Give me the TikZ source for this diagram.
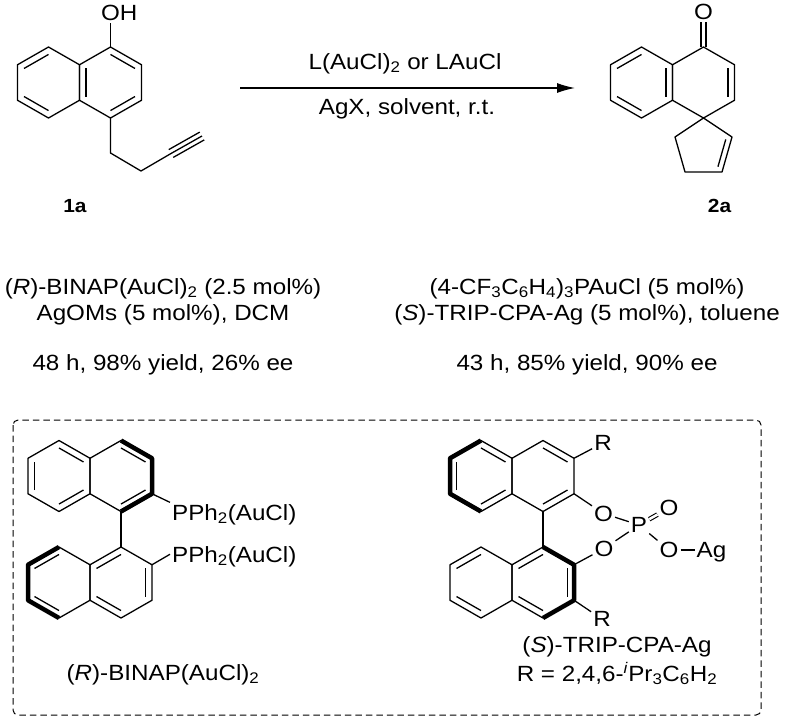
\documentclass[tikz,border=0pt]{standalone}
\usepackage{fontspec}
\setmainfont{Liberation Sans}[FakeStretch=1.1]
\usepackage{tikz,graphicx}
\usetikzlibrary{calc,arrows.meta}

% hexagon: name, centre x, centre y (pixel grid, y downwards)
\newcommand{\hexring}[3]{%
\coordinate (#1) at (#2,#3);
\foreach \k/\ddx/\ddy in {1/0/-35.5,2/31/-17.75,3/31/17.75,4/0/35.5,5/-31/17.75,6/-31/-17.75}
{\coordinate (#1-\k) at ($(#1)+(\ddx,\ddy)$);}
\draw (#1-1) -- (#1-2) -- (#1-3) -- (#1-4) -- (#1-5) -- (#1-6) -- cycle;}
% inner line of a double bond
\newcommand{\dbond}[3]{\draw ($(#1-#2)!.21!(#1)$) -- ($(#1-#3)!.21!(#1)$);}

\begin{document}
\begin{tikzpicture}[x=1pt,y=-1pt,line width=1.3pt,line join=round,
bold/.style={line width=4.5pt},
txt/.style={font=\fontsize{22}{25}\selectfont,inner sep=0pt},
atom/.style={font=\fontsize{22}{25}\selectfont,inner sep=1.5pt,text height=15.5pt,text depth=0pt},
lbl/.style={font=\fontsize{19}{22}\selectfont\bfseries,inner sep=0pt}]
\useasboundingbox (0,0) rectangle (786,721);
%Substrate 1a
\hexring{s1}{48.5}{82.5}
\hexring{s2}{110.5}{82.5}
\dbond{s1}{6}{1} \dbond{s1}{4}{5}
\dbond{s2}{6}{5} \dbond{s2}{1}{2} \dbond{s2}{3}{4}
\node[atom] (oh) at (110.5,13) {O\rlap{H}};
\draw (s2-1) -- (oh);
\coordinate (c1) at (110.5,153);
\coordinate (c2) at (141,171);
\coordinate (c3) at (171,153.5);
\coordinate (c4) at (202,136);
\draw (s2-4) -- (c1) -- (c2) -- (c3) -- (c4);
\draw ($(c3)!4.5pt!90:(c4)$) -- ($(c4)!4.5pt!-90:(c3)$);
\draw ($(c3)!4.5pt!-90:(c4)$) -- ($(c4)!4.5pt!90:(c3)$);
\node[lbl,anchor=base] (l1a) at (75,212) {1a};
%Arrow
\coordinate (arrS) at (240,88);
\coordinate (arrE) at (575,88);
\draw[-{Latex[length=18pt,width=10pt]}] (arrS) -- (arrE);
\node[txt,anchor=base] (cat) at (405,69) {L(AuCl)\textsubscript{2} or LAuCl};
\node[txt,anchor=base] (cond) at (407,114) {AgX, solvent, r.t.};
%Product 2a
\hexring{p1}{641.5}{82.5}
\hexring{p2}{703.5}{82.5}
\dbond{p1}{6}{1} \dbond{p1}{4}{5} \dbond{p1}{2}{3}
\dbond{p2}{2}{3}
\node[atom] (ko) at (703.5,12) {O};
\draw ([xshift=-2.6pt]p2-1) -- ([xshift=-2.6pt]ko.south);
\draw ([xshift=2.6pt]p2-1) -- ([xshift=2.6pt]ko.south);
\coordinate (q1) at (732,137);
\coordinate (q2) at (722,172);
\coordinate (q3) at (685,172);
\coordinate (q4) at (675,137);
\coordinate (q) at (703.5,148);
\draw (p2-4) -- (q1) -- (q2) -- (q3) -- (q4) -- cycle;
\draw ($(q1)!.22!(q)$) -- ($(q2)!.22!(q)$);
\node[lbl,anchor=base] (l2a) at (719.5,212) {2a};
%Conditions
\node[txt,anchor=base] (condL1) at (163,294) {(\textit{R})-BINAP(AuCl)\textsubscript{2} (2.5 mol\%)};
\node[txt,anchor=base] (condL2) at (163,320) {AgOMs (5 mol\%), DCM};
\node[txt,anchor=base] (resL) at (163,370) {48 h, 98\% yield, 26\% ee};
\node[txt,anchor=base] (condR1) at (587,294) {(4-CF\textsubscript{3}C\textsubscript{6}H\textsubscript{4})\textsubscript{3}PAuCl (5 mol\%)};
\node[txt,anchor=base] (condR2) at (587,320) {(\textit{S})-TRIP-CPA-Ag (5 mol\%), toluene};
\node[txt,anchor=base] (resR) at (587,370) {43 h, 85\% yield, 90\% ee};
%Box
\draw[line width=1pt,dash pattern=on 6.5pt off 4pt,rounded corners=5pt] (13,420) rectangle (761,715);
%BINAP
\hexring{bu1}{59}{476}
\hexring{bu2}{121}{476}
\hexring{bl1}{59}{582.5}
\hexring{bl2}{121}{582.5}
\draw[bold] (bu2-1) -- (bu2-2) -- (bu2-3) -- (bu2-4);
\draw[bold] (bl1-1) -- (bl1-6) -- (bl1-5) -- (bl1-4);
\dbond{bu1}{1}{2} \dbond{bu1}{5}{6} \dbond{bu1}{3}{4}
\dbond{bu2}{1}{2} \dbond{bu2}{3}{4}
\dbond{bl2}{6}{1} \dbond{bl2}{2}{3} \dbond{bl2}{4}{5}
\dbond{bl1}{1}{6} \dbond{bl1}{5}{4}
\draw (bu2-4) -- (bl2-1);
\node[atom,anchor=base west] (pu) at (170,520) {PPh\textsubscript{2}(AuCl)};
\node[atom,anchor=base west] (pl) at (170,562) {PPh\textsubscript{2}(AuCl)};
\draw (bu2-3) -- (pu.north west);
\draw (bl2-2) -- (pl.west);
\node[txt,anchor=base] (binap) at (163,680) {(\textit{R})-BINAP(AuCl)\textsubscript{2}};
%TRIP
\hexring{tu1}{481}{476}
\hexring{tu2}{543}{476}
\hexring{tl1}{481}{582.5}
\hexring{tl2}{543}{582.5}
\draw[bold] (tu1-1) -- (tu1-6) -- (tu1-5) -- (tu1-4);
\draw[bold] (tl2-1) -- (tl2-2) -- (tl2-3) -- (tl2-4);
\dbond{tu1}{1}{2} \dbond{tu1}{5}{6} \dbond{tu1}{3}{4}
\dbond{tu2}{1}{2} \dbond{tu2}{3}{4}
\dbond{tl2}{6}{1} \dbond{tl2}{2}{3} \dbond{tl2}{4}{5}
\dbond{tl1}{1}{6} \dbond{tl1}{5}{4}
\draw (tu2-4) -- (tl2-1);
\node[atom] (ru) at (603,443) {R};
\node[atom] (ou) at (603.5,513.5) {O};
\node[atom] (pp) at (639,525) {P};
\node[atom] (od) at (669,508) {O};
\node[atom] (ol) at (604,548.5) {O};
\node[atom] (or) at (669,550) {O};
\node[atom] (ag) at (711.5,550) {Ag};
\node[atom] (rl) at (602,619) {R};
\draw (tu2-2) -- (ru);
\draw (tu2-3) -- (ou);
\draw (ou) -- (pp);
\draw[double,double distance=2.5pt,line width=1.1pt] (pp) -- (od);
\draw (ol) -- (pp);
\draw (pp) -- (or);
\draw (or) -- (ag);
\draw (tl2-2) -- (ol);
\draw (tl2-3) -- (rl);
\node[txt,anchor=base] (trip) at (617,652) {(\textit{S})-TRIP-CPA-Ag};
\node[txt,anchor=base] (rdef) at (617,681) {R = 2,4,6-\textsuperscript{\textit{i}}Pr\textsubscript{3}C\textsubscript{6}H\textsubscript{2}};
\end{tikzpicture}
\end{document}
